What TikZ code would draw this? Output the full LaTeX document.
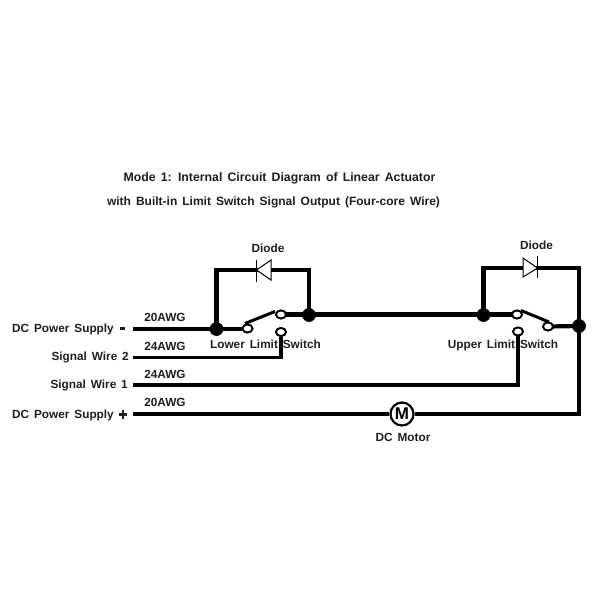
\documentclass[tikz,border=0pt]{standalone}
\usepackage{fontspec}
\setmainfont[WordSpace=1.5]{Liberation Sans}
\usetikzlibrary{shapes.geometric}
\tikzset{
  wire/.style={line width=4.2pt,line cap=butt,line join=miter},
  thinwire/.style={line width=3.6pt,line join=miter},
  junction/.style={circle,fill=black,draw=none,inner sep=0pt,minimum size=13.5pt},
  contact/.style={ellipse,fill=white,draw=black,line width=1.8pt,inner sep=0pt,minimum width=10pt,minimum height=8pt},
  lever/.style={line width=3pt},
  lab/.style={font=\bfseries\fontsize{11.8}{13}\selectfont,text=black!88,inner sep=0pt},
  diodebody/.style={draw=black,fill=white,line width=1pt,line join=miter},
  diodebar/.style={line width=1pt},
  motorc/.style={circle,draw=black,fill=white,line width=2.2pt,inner sep=0pt,minimum size=23pt,font=\bfseries\fontsize{17}{17}\selectfont}
}
\begin{document}
\begin{tikzpicture}[x=1pt,y=-1pt]
\useasboundingbox (0,0) rectangle (600,600);
\fill[white] (0,0) rectangle (600,600);
% titles
\node[lab,font=\bfseries\fontsize{12.3}{14}\selectfont,anchor=center] (t1) at (279.5,178.5) {Mode 1: Internal Circuit Diagram of Linear Actuator};
\node[lab,font=\bfseries\fontsize{12}{14}\selectfont,anchor=center] (t2) at (273.5,202.5) {with Built-in Limit Switch Signal Output (Four-core Wire)};
% anchors
\coordinate (a1) at (133,329);
\coordinate (a2) at (133,357.5);
\coordinate (a3) at (133,385);
\coordinate (a4) at (133,414);
\node[junction] (j1) at (216.5,329) {};
\node[junction] (j2) at (309,315) {};
\node[junction] (j3) at (483.5,315) {};
\node[junction] (j4) at (579,326) {};
\coordinate (c1) at (216.5,270);
\coordinate (c2) at (309,270);
\coordinate (c3) at (483.5,268);
\coordinate (c4) at (579,268);
\coordinate (c5) at (579,414);
\coordinate (c6) at (281,357.5);
\coordinate (c7) at (518,385);
\coordinate (l1a) at (245,323.5);
\coordinate (l1b) at (275,311.5);
\coordinate (l2a) at (521,310.5);
\coordinate (l2b) at (549,322);
% contacts
\node[contact] (s1a) at (247.5,328.5) {};
\node[contact] (s1b) at (281,314.5) {};
\node[contact] (s1c) at (281,332) {};
\node[contact] (s2a) at (517,314.5) {};
\node[contact] (s2b) at (548,326.5) {};
\node[contact] (s2c) at (518,331.5) {};
% motor
\node[motorc] (m) at (402,414) {M};
% wires
\draw[wire] (a1) -- (s1a.west |- a1);
\draw[wire] (j1.center) -- (c1) -- (c2) -- (j2.center);
\draw[wire] (s1b.center) -- (s2a.center);
\draw[wire] (j3.center) -- (c3) -- (c4) -- (c5) -- (m);
\draw[wire] (s2b.center) -- (j4.center);
\draw[wire] (m) -- (a4);
\draw[thinwire] (a2) -- (c6) -- (s1c);
\draw[thinwire] (a3) -- (c7) -- (s2c);
\draw[lever] (l1a) -- (l1b);
\draw[lever] (l2a) -- (l2b);
% diode symbols
\draw[diodebody] (271,260) -- (271,280) -- (256.5,270) -- cycle;
\draw[diodebar] (256.5,260) -- (256.5,282);
\draw[diodebody] (523,258) -- (523,277) -- (537.5,268) -- cycle;
\draw[diodebar] (537.5,256) -- (537.5,278);
% labels
\node[lab,anchor=east] (l1) at (114,329.5) {DC Power Supply};
\node[lab,anchor=east] (l2) at (129,357) {Signal Wire 2};
\node[lab,anchor=east] (l3) at (128,385) {Signal Wire 1};
\node[lab,anchor=east] (l4) at (114,415.5) {DC Power Supply};
\fill[black!88] (119.5,327) rectangle (125,329.8);
\fill[black!88] (119,413) rectangle (127,415.8);
\fill[black!88] (121.6,410) rectangle (124.4,419);
\node[lab] (w1) at (165,317) {20AWG};
\node[lab] (w2) at (165,346) {24AWG};
\node[lab] (w3) at (165,374) {24AWG};
\node[lab] (w4) at (165,402.5) {20AWG};
\node[lab] (n1) at (268,248.5) {Diode};
\node[lab] (n2) at (536.5,245) {Diode};
\node[lab] (n3) at (265.5,344) {Lower Limit Switch};
\node[lab] (n4) at (503,345.5) {Upper Limit Switch};
\node[lab] (n5) at (403,437.5) {DC Motor};
% on top
\node[contact] at (s1a) {};
\node[contact] at (s1b) {};
\node[contact] at (s1c) {};
\node[contact] at (s2a) {};
\node[contact] at (s2b) {};
\node[contact] at (s2c) {};
\node[junction] at (j1) {};
\node[junction] at (j2) {};
\node[junction] at (j3) {};
\node[junction] at (j4) {};
\end{tikzpicture}
\end{document}
